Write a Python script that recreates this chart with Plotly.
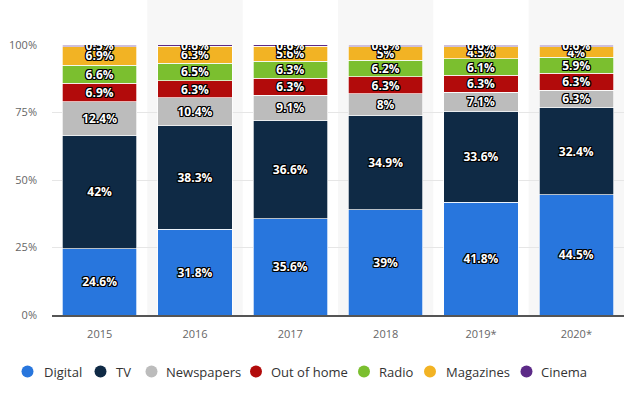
import plotly.graph_objects as go

years = ["2015", "2016", "2017", "2018", "2019*", "2020*"]
series_names = ["Digital", "TV", "Newspapers", "Out of home", "Radio", "Magazines", "Cinema"]
digital = [24.6, 31.8, 35.6, 39, 41.8, 44.5]
tv = [42, 38.3, 36.6, 34.9, 33.6, 32.4]
newspapers = [12.4, 10.4, 9.1, 8, 7.1, 6.3]
out_of_home = [6.9, 6.3, 6.3, 6.3, 6.3, 6.3]
radio = [6.6, 6.5, 6.3, 6.2, 6.1, 5.9]
magazines = [6.9, 6.3, 5.6, 5, 4.5, 4]
cinema = [0.5, 0.6, 0.6, 0.6, 0.6, 0.6]
y_ticks = [0, 25, 50, 75, 100]
y_tick_labels = ["0%", "25%", "50%", "75%", "100%"]

values = [digital, tv, newspapers, out_of_home, radio, magazines, cinema]
colors = ["#2876dd", "#0f2a45", "#bcbcbc", "#b20b0b", "#7bbf2f", "#f2b324", "#5c2a87"]

# plot area geometry (pixels)
W, H = 640, 407
ML, MR, MT, MB = 52, 16, 45, 92
PW, PH = W - ML - MR, H - MT - MB

def fmt(v):
    return ("%g" % v) + "%"

fig = go.Figure()
shadow = ("-1px -1px 0 #000, 1px -1px 0 #000, -1px 1px 0 #000, 1px 1px 0 #000, "
          "0 1px 0 #000, 0 -1px 0 #000, 1px 0 0 #000, -1px 0 0 #000")
for name, vals, col in zip(series_names, values, colors):
    fig.add_trace(go.Bar(
        x=years, y=vals, name=name,
        marker=dict(color=col, line=dict(color="white", width=0.7)),
        text=[fmt(v) for v in vals], textposition="inside", constraintext="none",
        insidetextanchor="middle",
        textfont=dict(family="Open Sans", size=12, color="white", weight="bold", shadow=shadow),
        showlegend=False, hoverinfo="skip",
    ))

shapes = []
# alternating background bands
for i in range(len(years)):
    if i % 2 == 1:
        shapes.append(dict(type="rect", xref="x", yref="paper", x0=i - 0.5, x1=i + 0.5,
                           y0=0, y1=1 + MT / PH, fillcolor="#f7f7f7", line=dict(width=0),
                           layer="below"))

# legend (circle markers + labels), laid out in one row as in the reference
legend_circle_px = [27.5, 100.5, 151.5, 256, 364, 430, 526.5]
legend_text_px = [41.5, 113.5, 164, 269, 377, 444, 539]
legend_y_px = 371.5
ly = (MT + PH - legend_y_px) / PH
annotations = []
for name, col, cx, tx in zip(series_names, colors, legend_circle_px, legend_text_px):
    shapes.append(dict(type="circle", xref="paper", yref="paper",
                       xsizemode="pixel", ysizemode="pixel",
                       xanchor=(cx - ML) / PW, yanchor=ly,
                       x0=-6, x1=6, y0=-6, y1=6,
                       fillcolor=col, line=dict(width=0)))
    annotations.append(dict(xref="paper", yref="paper", x=(tx - ML) / PW, y=ly,
                            xanchor="left", yanchor="middle", text=name, showarrow=False,
                            font=dict(family="Open Sans", size=13, color="#333")))

fig.update_layout(
    barmode="stack", bargap=0.22,
    width=W, height=H,
    margin=dict(l=ML, r=MR, t=MT, b=MB, autoexpand=False),
    paper_bgcolor="white", plot_bgcolor="rgba(0,0,0,0)",
    shapes=shapes, annotations=annotations,
    showlegend=False,
    font=dict(family="Open Sans", color="#666"),
    xaxis=dict(showline=True, linecolor="#555", linewidth=1.5, ticks="", automargin=False,
               tickfont=dict(size=11, color="#666"), range=[-0.5, 5.5], ticklabelstandoff=8),
    yaxis=dict(range=[0, 100], tickvals=y_ticks, ticktext=y_tick_labels, automargin=False,
               showgrid=True, gridcolor="#e6e6e6", zeroline=False,
               tickfont=dict(size=11, color="#666"), ticklabelstandoff=14),
)
fig.write_html("out.html")
